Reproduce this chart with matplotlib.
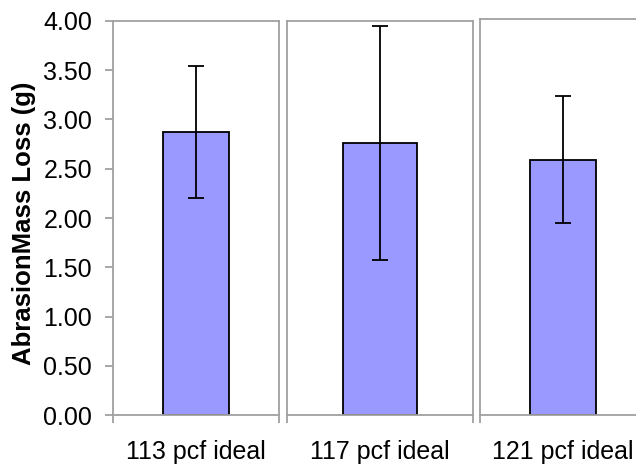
import matplotlib.pyplot as plt
from matplotlib.ticker import FixedLocator, FormatStrFormatter

# valores
categorias = ["113 pcf ideal", "117 pcf ideal", "121 pcf ideal"]
medias = [2.87, 2.76, 2.58]
erros = [0.67, 1.19, 0.64]
yticks = [0, 0.5, 1.0, 1.5, 2.0, 2.5, 3.0, 3.5, 4.0]

plt.rcParams['font.family'] = ['Liberation Sans', 'DejaVu Sans']

cinza = '#a0a0a0'
fig = plt.figure(figsize=(6.36, 4.65), dpi=100)

# posições (em px) de cada painel: esquerda, largura, altura
paineis = [(113, 166, 394), (287, 186, 394), (480, 166, 396)]

for i, (x0, w, h) in enumerate(paineis):
    ax = fig.add_axes([x0 / 636, 50 / 465, w / 636, h / 465])
    ax.bar(0, medias[i], width=0.4, color='#9999ff', edgecolor='black', linewidth=1.3, zorder=2)
    ax.errorbar(0, medias[i], yerr=erros[i], fmt='none', ecolor='black',
                elinewidth=1.3, capsize=6, capthick=1.3, zorder=3)
    ax.set_xlim(-0.5, 0.5)
    ax.set_ylim(0, 4)
    for s in ax.spines.values():
        s.set_color(cinza)
        s.set_linewidth(1.3)
    ax.set_xticks([0])
    ax.set_xticklabels([categorias[i]], fontsize=18)
    ax.tick_params(axis='x', which='major', length=0, pad=18)
    ax.xaxis.set_minor_locator(FixedLocator([-0.5, 0.5]))
    ax.tick_params(axis='x', which='minor', length=6, color=cinza, width=1.3, direction='out')
    if i == 0:
        ax.set_yticks(yticks)
        ax.yaxis.set_major_formatter(FormatStrFormatter('%.2f'))
        ax.tick_params(axis='y', length=6, color=cinza, width=1.3, labelsize=18, pad=9)
    else:
        ax.set_yticks([])

fig.text(24 / 636, 0.519, "AbrasionMass Loss (g)", rotation=90, fontsize=18.5,
         fontweight='bold', ha='center', va='center')

fig.savefig('out.png', dpi=100)
